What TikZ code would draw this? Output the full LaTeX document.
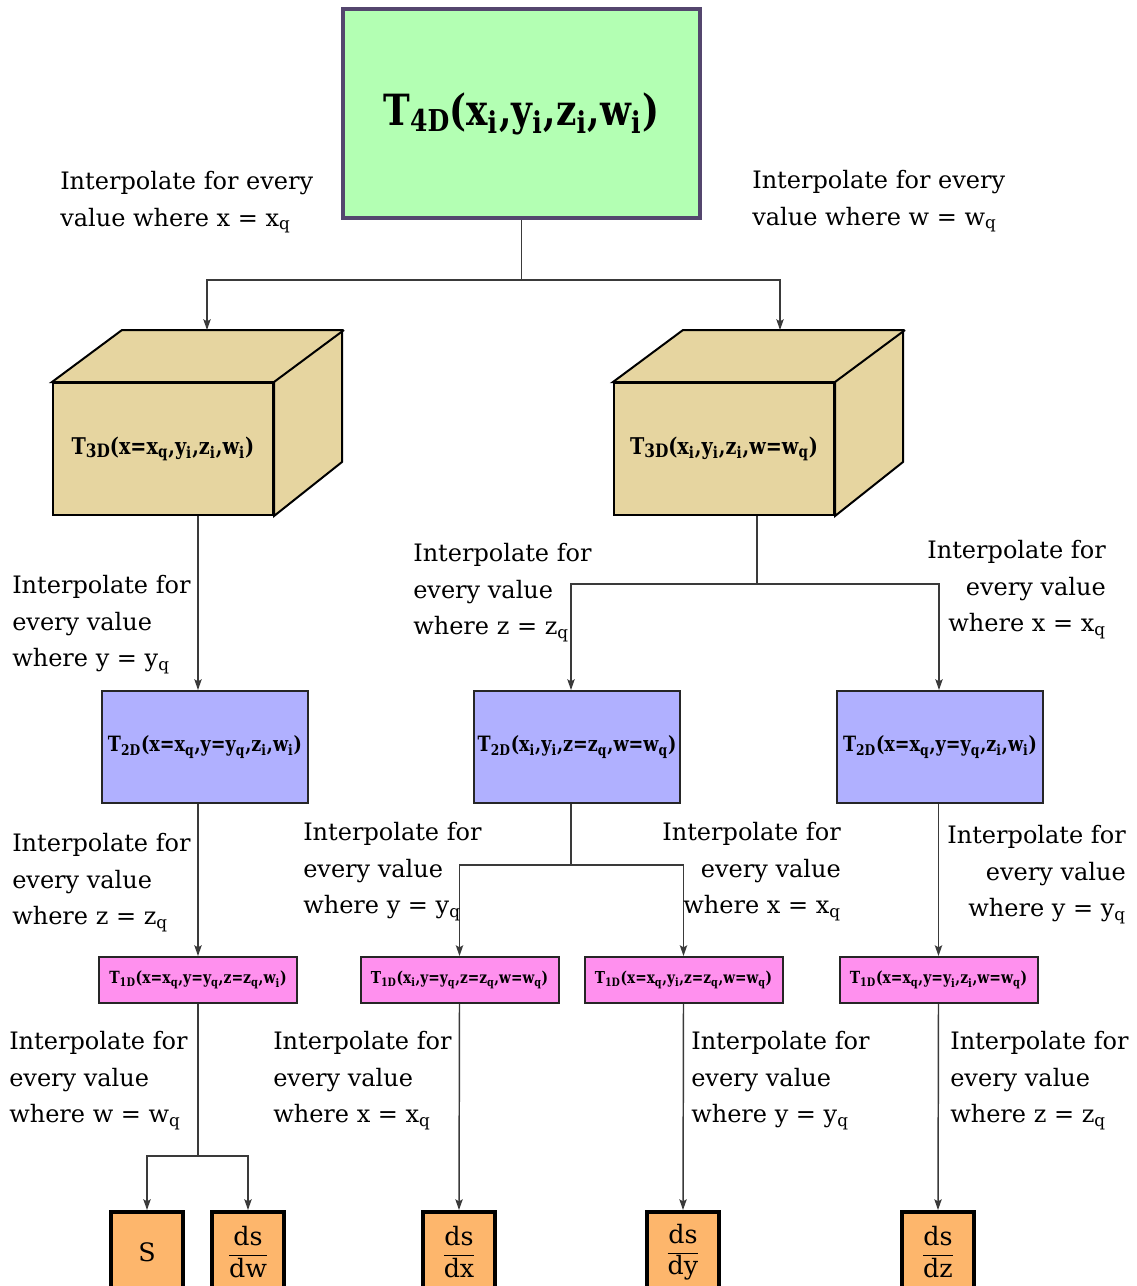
\documentclass[tikz,border=0pt]{standalone}
\usepackage{fontspec}
\setmainfont{DejaVu Serif}
\usetikzlibrary{arrows.meta,calc}

\definecolor{gfill}{HTML}{B3FFB3}
\definecolor{gedge}{HTML}{54466E}
\definecolor{tanfill}{HTML}{E6D5A0}
\definecolor{lavfill}{HTML}{B0B0FF}
\definecolor{pinkfill}{HTML}{FF90EE}
\definecolor{orfill}{HTML}{FDB66C}
\definecolor{wire}{HTML}{3A3A3A}

\newcommand{\sbx}[1]{\textsubscript{#1}}
\newcommand{\dsfrac}[1]{\(\displaystyle\frac{\mbox{ds}}{\mbox{#1}}\)}
% bold table label, fitted to a given width and stretched a little in height
\newcommand{\tablabel}[2]{\scalebox{1}[1.2]{\resizebox{#1}{!}{\bfseries #2}}}

\begin{document}
\begin{tikzpicture}[x=0.75pt,y=-0.75pt,
  wireline/.style={draw=wire, line width=1.1pt},
  arr/.style={wireline, -{Stealth[length=8pt,width=5.5pt,inset=1.5pt]}},
  lab/.style={font=\fontsize{18}{27.4}\selectfont, inner sep=0pt},
  labl/.style={lab, align=left, anchor=north west},
  labr/.style={lab, align=right, anchor=north east},
  box4/.style={draw=gedge, fill=gfill, line width=3pt, minimum width=267.75pt, minimum height=156.75pt, inner sep=0pt},
  face3/.style={draw=black, fill=tanfill, line width=1.5pt, line join=miter},
  box3/.style={face3, minimum width=165pt, minimum height=99pt, inner sep=0pt},
  box2/.style={draw=black!85, fill=lavfill, line width=1.5pt, minimum width=154.5pt, minimum height=84pt, inner sep=0pt},
  box1/.style={draw=black!85, fill=pinkfill, line width=1.5pt, minimum width=148.5pt, minimum height=34.5pt, inner sep=0pt},
  box0/.style={draw=black, fill=orfill, line width=3pt, minimum width=54pt, minimum height=60pt, inner sep=0pt, font=\fontsize{19}{22}\selectfont}
]
\useasboundingbox (0,0) rectangle (1137,1286);

% 4D table
\node[box4] (T4) at (521.5,113.5)
  {\tablabel{207pt}{T\raisebox{-0.3ex}{\scriptsize 4D}(x\sbx{i},y\sbx{i},z\sbx{i},w\sbx{i})}};

% 3D tables drawn as cuboids
\node[box3] (L3) at (163,449)
  {\tablabel{137pt}{T\raisebox{-0.25ex}{\footnotesize 3D}(x=x\sbx{q},y\sbx{i},z\sbx{i},w\sbx{i})}};
\draw[face3] (L3.north west) -- ++(70,-52) -- ++(220,0) -- ++(0,132) -- (L3.south east) -- (L3.north east) -- cycle;
\draw[face3] (L3.north east) -- ++(70,-52);

\node[box3] (R3) at (724,449)
  {\tablabel{141pt}{T\raisebox{-0.25ex}{\footnotesize 3D}(x\sbx{i},y\sbx{i},z\sbx{i},w=w\sbx{q})}};
\draw[face3] (R3.north west) -- ++(70,-52) -- ++(220,0) -- ++(0,132) -- (R3.south east) -- (R3.north east) -- cycle;
\draw[face3] (R3.north east) -- ++(70,-52);

% 2D tables
\node[box2] (L2) at (205,747)
  {\tablabel{145.5pt}{T\sbx{2D}(x=x\sbx{q},y=y\sbx{q},z\sbx{i},w\sbx{i})}};
\node[box2] (M2) at (577,747)
  {\tablabel{149pt}{T\sbx{2D}(x\sbx{i},y\sbx{i},z=z\sbx{q},w=w\sbx{q})}};
\node[box2] (R2) at (940,747)
  {\tablabel{145.5pt}{T\sbx{2D}(x=x\sbx{q},y=y\sbx{q},z\sbx{i},w\sbx{i})}};

% 1D tables
\node[box1] (A1) at (198,980)
  {\tablabel{133pt}{T\sbx{1D}(x=x\sbx{q},y=y\sbx{q},z=z\sbx{q},w\sbx{i})}};
\node[box1] (B1) at (459.5,980)
  {\tablabel{133pt}{T\sbx{1D}(x\sbx{i},y=y\sbx{q},z=z\sbx{q},w=w\sbx{q})}};
\node[box1] (C1) at (683.5,980)
  {\tablabel{133pt}{T\sbx{1D}(x=x\sbx{q},y\sbx{i},z=z\sbx{q},w=w\sbx{q})}};
\node[box1] (D1) at (938.5,980)
  {\tablabel{133pt}{T\sbx{1D}(x=x\sbx{q},y=y\sbx{i},z\sbx{i},w=w\sbx{q})}};

% results
\node[box0] (S)    at (147,1252) {S};
\node[box0] (Sdw)  at (248,1252) {\dsfrac{dw}};
\node[box0] (Sdx)  at (459,1252) {\dsfrac{dx}};
\node[box0] (Sdy)  at (683,1252) {\dsfrac{dy}};
\node[box0] (Sdz)  at (938,1252) {\dsfrac{dz}};

% connector end points on the cuboid tops and branch points
\coordinate (L3top) at ($(L3.north west)+(155,-52)$);
\coordinate (R3top) at ($(R3.north west)+(167,-52)$);
\coordinate (L3out) at ($(L3.south)+(35,0)$);
\coordinate (R3out) at ($(R3.south)+(33,0)$);

\draw[wireline] (T4.south) -- ++(0,60) coordinate (j1);
\draw[arr] (j1) -| (L3top);
\draw[arr] (j1) -| (R3top);

\draw[arr] (L3out) -- (L3out |- L2.north);

\draw[wireline] (R3out) -- ++(0,68) coordinate (j2);
\draw[arr] (j2) -| ($(M2.north)+(-6,0)$);
\draw[arr] (j2) -| ($(R2.north)+(-1,0)$);

\draw[arr] ($(L2.south)+(-7,0)$) -- (A1.north);

\draw[wireline] ($(M2.south)+(-6,0)$) -- ++(0,61) coordinate (j3);
\draw[arr] (j3) -| (B1.north);
\draw[arr] (j3) -| (C1.north);

\draw[arr] ($(R2.south)+(-1.5,0)$) -- (D1.north);

\draw[wireline] (A1.south) -- ++(0,152) coordinate (j4);
\draw[arr] (j4) -| (S.north);
\draw[arr] (j4) -| (Sdw.north);

\draw[arr] (B1.south) -- (Sdx.north);
\draw[arr] (C1.south) -- (Sdy.north);
\draw[arr] (D1.south) -- (Sdz.north);

% step labels
\node[labl] (lab1)  at (60,171)   {Interpolate for every\\value where x = x\sbx{q}};
\node[labl] (lab2)  at (752,170)  {Interpolate for every\\value where w = w\sbx{q}};
\node[labl] (lab3)  at (12,575)   {Interpolate for\\every value\\where y = y\sbx{q}};
\node[labl] (lab4)  at (413,543)  {Interpolate for\\every value\\where z = z\sbx{q}};
\node[labr] (lab5)  at (1106,540) {Interpolate for\\every value\\where x = x\sbx{q}};
\node[labl] (lab6)  at (12,833)   {Interpolate for\\every value\\where z = z\sbx{q}};
\node[labl] (lab7)  at (303,822)  {Interpolate for\\every value\\where y = y\sbx{q}};
\node[labr] (lab8)  at (841,822)  {Interpolate for\\every value\\where x = x\sbx{q}};
\node[labr] (lab9)  at (1126,825) {Interpolate for\\every value\\where y = y\sbx{q}};
\node[labl] (lab10) at (9,1031)   {Interpolate for\\every value\\where w = w\sbx{q}};
\node[labl] (lab11) at (273,1031) {Interpolate for\\every value\\where x = x\sbx{q}};
\node[labl] (lab12) at (691,1031) {Interpolate for\\every value\\where y = y\sbx{q}};
\node[labl] (lab13) at (950,1031) {Interpolate for\\every value\\where z = z\sbx{q}};
\end{tikzpicture}
\end{document}
